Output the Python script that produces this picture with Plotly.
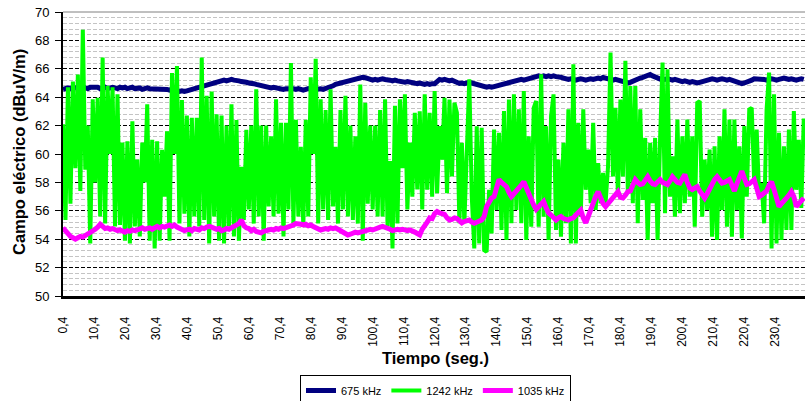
import plotly.graph_objects as go

# Field strength records (dBuV/m), one sample every 0.8 s starting at 0.4 s
campo_675 = [
    64.55, 64.6, 64.65, 64.6, 64.7, 64.65, 64.6, 64.7, 64.75, 64.65, 64.6, 64.7, 64.7, 64.65, 64.7, 64.6, 64.65, 64.7, 64.6, 64.65,
    64.7, 64.65, 64.6, 64.7, 64.65, 64.7, 64.6, 64.65, 64.7, 64.6, 64.6, 64.65, 64.55, 64.6, 64.65, 64.6, 64.6, 64.55, 64.6, 64.6,
    64.55, 64.6, 64.55, 64.5, 64.55, 64.5, 64.45, 64.4, 64.45, 64.4, 64.45, 64.5, 64.55, 64.6, 64.6, 64.65, 64.7, 64.75, 64.8, 64.85,
    64.95, 65.0, 65.05, 65.1, 65.15, 65.2, 65.15, 65.2, 65.25, 65.2, 65.2, 65.15, 65.1, 65.1, 65.05, 65.0, 65.0, 64.95, 64.9, 64.85,
    64.8, 64.8, 64.75, 64.7, 64.65, 64.7, 64.65, 64.6, 64.6, 64.55, 64.6, 64.6, 64.65, 64.6, 64.55, 64.6, 64.55, 64.5, 64.55, 64.6,
    64.55, 64.5, 64.55, 64.6, 64.6, 64.55, 64.6, 64.7, 64.75, 64.8, 64.9, 64.95, 65.0, 65.05, 65.1, 65.15, 65.2, 65.25, 65.3, 65.3,
    65.35, 65.4, 65.38, 65.3, 65.25, 65.2, 65.25, 65.2, 65.25, 65.3, 65.25, 65.25, 65.2, 65.15, 65.2, 65.15, 65.1, 65.1, 65.05, 65.1,
    65.05, 65.0, 65.0, 64.95, 65.0, 64.95, 64.9, 64.95, 64.9, 64.95, 64.95, 65.1, 65.25, 65.2, 65.25, 65.2, 65.15, 65.2, 65.1, 65.0,
    64.97, 65.0, 64.95, 65.0, 65.05, 65.0, 64.95, 64.9, 64.85, 64.8, 64.75, 64.7, 64.75, 64.7, 64.75, 64.8, 64.8, 64.85, 64.9, 64.95,
    65.0, 65.05, 65.1, 65.15, 65.2, 65.25, 65.2, 65.25, 65.3, 65.35, 65.4, 65.45, 65.5, 65.45, 65.5, 65.45, 65.5, 65.45, 65.5, 65.45,
    65.45, 65.4, 65.35, 65.3, 65.25, 65.3, 65.25, 65.2, 65.25, 65.3, 65.25, 65.2, 65.25, 65.3, 65.25, 65.3, 65.35, 65.3, 65.4, 65.35,
    65.3, 65.25, 65.2, 65.25, 65.2, 65.15, 65.1, 65.05, 65.0, 65.05, 65.15, 65.25, 65.3, 65.35, 65.4, 65.5, 65.55, 65.6, 65.5, 65.4,
    65.3, 65.25, 65.2, 65.25, 65.3, 65.25, 65.2, 65.25, 65.2, 65.15, 65.1, 65.15, 65.1, 65.05, 65.1, 65.05, 65.0, 65.05, 65.1, 65.15,
    65.2, 65.25, 65.3, 65.25, 65.2, 65.25, 65.3, 65.25, 65.2, 65.25, 65.2, 65.1, 65.05, 65.0, 64.95, 65.0, 65.05, 65.1, 65.2, 65.3,
    65.3, 65.25, 65.3, 65.25, 65.2, 65.25, 65.3, 65.25, 65.2, 65.25, 65.3, 65.35, 65.3, 65.25, 65.3, 65.25, 65.2, 65.25, 65.3, 65.25,
]

campo_1242 = [
    62.1, 55.35, 64.7, 56.5, 65.1, 59.0, 65.6, 57.4, 68.75, 58.9,
    62.0, 53.7, 63.85, 58.0, 63.95, 55.6, 66.8, 55.1, 64.8, 60.0,
    64.7, 54.9, 64.2, 55.0, 60.8, 53.9, 60.9, 53.7, 62.3, 54.9,
    59.6, 54.2, 60.8, 58.0, 63.5, 53.9, 61.0, 53.35, 60.9, 53.9,
    60.3, 57.0, 61.6, 53.9, 65.7, 60.0, 66.2, 55.1, 63.8, 55.8,
    62.7, 54.2, 62.55, 55.6, 62.55, 54.9, 66.8, 55.35, 64.1, 53.7,
    64.4, 55.6, 62.8, 53.9, 62.7, 53.7, 62.0, 54.9, 63.5, 54.2,
    62.4, 53.9, 59.1, 55.35, 61.7, 56.1, 62.0, 55.1, 64.55, 55.6,
    62.0, 53.9, 62.0, 56.3, 61.25, 55.6, 63.85, 55.8, 62.2, 54.2,
    62.2, 56.1, 66.4, 55.1, 62.4, 55.6, 60.5, 54.9, 62.4, 55.6,
    65.4, 60.0, 66.7, 55.1, 63.85, 56.1, 63.1, 55.35, 64.55, 56.3,
    60.5, 55.1, 63.1, 56.1, 64.1, 55.6, 62.0, 55.35, 61.25, 55.1,
    64.9, 53.9, 63.6, 56.5, 62.0, 56.1, 62.0, 55.6, 63.1, 55.6,
    63.85, 54.9, 59.5, 53.35, 63.4, 55.1, 63.85, 59.0, 64.2, 56.1,
    60.8, 57.0, 62.9, 57.5, 63.0, 56.1,
    64.2, 57.48, 62.9, 57.0, 64.43, 57.24, 61.96, 59.6, 63.96, 57.24,
    63.84, 58.42, 63.61, 62.9, 55.12, 60.78, 55.12, 59.6, 65.26, 57.0,
    53.35, 61.96, 53.7, 61.84, 53.23, 53.11, 57.48, 54.41, 61.72, 56.06,
    61.49, 54.65, 63.02, 53.94, 63.84, 55.12, 64.2, 56.06, 63.14, 55.12,
    64.43, 53.94, 61.25, 54.88, 63.25, 63.73, 54.88, 65.61, 55.59, 61.96,
    53.94, 62.67, 64.2, 54.65, 59.6, 54.17, 60.78, 55.12, 63.14, 53.7,
    66.32, 53.7, 62.19, 55.59, 63.14, 57.48, 60.31, 56.53, 62.19, 56.06,
    59.36, 56.53, 58.66, 56.53, 59.13, 67.15, 58.42, 63.25, 57.0, 63.84,
    58.42, 66.56, 57.24, 64.79, 56.53, 64.79, 55.12, 63.14, 56.77, 61.13,
    53.94, 60.78, 56.53, 61.13, 53.94, 61.01, 66.44, 55.83, 65.97, 57.0,
    59.83, 55.59, 62.43, 55.83, 61.25, 56.53, 62.43, 57.0, 61.25, 54.88,
    63.61, 63.73, 55.59, 59.6, 56.06, 60.31, 54.17, 60.54, 53.94, 61.25,
    56.06, 63.14, 54.88, 62.43, 54.17, 62.43, 56.06, 60.54, 54.06, 61.96,
    57.0, 63.14, 63.25, 57.95, 61.72, 57.0, 57.95, 55.12, 63.14, 65.73,
    53.35, 64.2, 53.7, 61.49, 53.94, 60.54, 54.65, 61.72, 54.65, 63.02,
    57.48, 61.0, 56.2, 62.5,
]

campo_1035 = [
    54.8, 54.6, 54.3, 54.2, 54.1, 54.0, 54.1, 54.2, 54.15, 54.25, 54.3, 54.45, 54.6, 54.7, 54.85, 55.05, 54.9, 54.75, 54.8, 54.7,
    54.75, 54.7, 54.6, 54.65, 54.55, 54.5, 54.6, 54.55, 54.65, 54.6, 54.65, 54.7, 54.8, 54.7, 54.75, 54.8, 54.7, 54.85, 54.9, 54.8,
    54.9, 54.85, 54.95, 55.0, 54.9, 55.0, 54.85, 54.75, 54.7, 54.6, 54.65, 54.7, 54.6, 54.75, 54.7, 54.65, 54.8, 54.75, 54.85, 54.9,
    54.85, 54.8, 54.7, 54.75, 54.6, 54.65, 54.75, 54.7, 54.8, 54.9, 55.0, 55.1, 55.35, 54.95, 54.8, 54.75, 54.6, 54.7, 54.55, 54.5,
    54.45, 54.55, 54.6, 54.65, 54.7, 54.65, 54.75, 54.7, 54.8, 54.75, 54.8, 54.9, 54.95, 55.0, 55.1, 55.1, 55.05, 55.0, 55.05, 54.95,
    55.0, 54.9, 54.8, 54.7, 54.65, 54.7, 54.75, 54.7, 54.8, 54.75, 54.8, 54.7, 54.6, 54.5, 54.4, 54.3, 54.35, 54.45, 54.5, 54.45,
    54.5, 54.55, 54.6, 54.65, 54.7, 54.65, 54.75, 54.8, 54.85, 54.9, 54.85, 54.75, 54.7, 54.6, 54.65, 54.7, 54.65, 54.7, 54.65, 54.6,
    54.65, 54.6, 54.5, 54.4, 54.3, 54.7, 54.9, 55.2, 55.5, 55.45, 55.8, 55.95, 55.85, 55.8, 55.75, 55.5, 55.35, 55.4, 55.5, 55.45,
    55.3, 55.15, 55.25, 55.3, 55.35, 55.2, 55.12, 55.2, 55.3, 55.35, 55.6, 56.3, 56.6, 56.9, 57.0, 57.6, 58.2, 58.0, 57.8, 57.7,
    57.3, 57.0, 57.2, 57.4, 57.5, 57.8, 58.05, 57.6, 57.1, 56.8, 56.4, 56.1, 56.3, 56.5, 56.65, 56.2, 55.85, 55.7, 55.5, 55.35,
    55.5, 55.6, 55.45, 55.4, 55.35, 55.45, 55.5, 55.7, 55.9, 56.05, 55.5, 55.15, 55.6, 56.1, 56.65, 57.0, 57.35, 56.9, 56.5, 56.3,
    56.5, 56.75, 56.9, 57.1, 57.35, 56.95, 56.9, 57.1, 57.35, 57.4, 57.8, 58.2, 58.0, 57.85, 57.9, 58.1, 58.4, 58.1, 57.9, 57.85,
    58.0, 58.2, 58.0, 57.9, 57.85, 58.1, 58.4, 58.2, 58.0, 57.95, 58.2, 58.55, 58.0, 57.6, 57.5, 57.6, 57.7, 57.4, 57.1, 56.9,
    57.2, 57.6, 57.9, 58.2, 58.4, 58.15, 57.95, 58.0, 58.1, 58.2, 57.8, 57.4, 57.9, 58.4, 58.8, 58.3, 57.85, 57.9, 58.0, 58.2,
    57.6, 57.0, 57.1, 57.2, 57.4, 57.8, 58.05, 57.5, 56.8, 56.3, 56.5, 56.65, 56.9, 57.1, 57.35, 57.0, 56.3, 56.5, 56.7, 56.9,
]

series_names = ["675 kHz", "1242 kHz", "1035 kHz"]
series_colors = ["#000080", "#00FF00", "#FF00FF"]
series_widths = [5, 4, 5]

# Time axis labels every 10 s
tick_seconds = [0.4 + 10 * n for n in range(24)]
tick_labels = [f"{v:.1f}".replace(".", ",") for v in tick_seconds]

PASO = 0.8  # sampling interval in seconds


def tiempos(valores):
    return [round(0.4 + PASO * k, 1) for k in range(len(valores))]


fig = go.Figure()
for name, color, values, width in zip(
    series_names, series_colors, [campo_675, campo_1242, campo_1035], series_widths
):
    fig.add_trace(
        go.Scatter(
            x=tiempos(values),
            y=values,
            mode="lines",
            name=name,
            line=dict(color=color, width=width),
        )
    )

font_family = "Liberation Sans, Arial, sans-serif"

# Figure / plot-area geometry in pixels
W, H = 805, 401
ML, MR, MT, MB = 63, 0, 12, 105
plot_w = W - ML - MR
plot_h = H - MT - MB

fig.update_layout(
    width=W,
    height=H,
    margin=dict(l=ML, r=MR, t=MT, b=MB, autoexpand=False),
    paper_bgcolor="white",
    plot_bgcolor="white",
    font=dict(family=font_family, color="black"),
    showlegend=True,
    legend=dict(
        orientation="h",
        xref="container",
        x=435.5 / W,
        xanchor="center",
        yref="container",
        y=1 - 375 / H,
        yanchor="top",
        font=dict(size=11, family=font_family),
        bordercolor="black",
        borderwidth=1,
        itemwidth=30,
        tracegroupgap=0,
    ),
    xaxis=dict(
        range=[0.4, 240],
        tickmode="array",
        tickvals=tick_seconds,
        ticktext=tick_labels,
        tickangle=-90,
        tickfont=dict(size=12),
        ticks="",
        ticklabelstandoff=13,
        showgrid=False,
        zeroline=False,
        showline=True,
        linecolor="black",
        linewidth=3,
    ),
    yaxis=dict(
        range=[50, 70],
        dtick=2,
        tick0=50,
        tickfont=dict(size=13),
        ticks="outside",
        ticklen=6,
        tickcolor="black",
        ticklabelstandoff=3,
        showline=True,
        linecolor="black",
        linewidth=2,
        zeroline=False,
        showgrid=True,
        gridcolor="black",
        gridwidth=1,
        griddash="4px,2px",
        minor=dict(
            dtick=0.4,
            tick0=50,
            showgrid=True,
            gridcolor="#c4c4c4",
            gridwidth=1,
            griddash="4px,2px",
        ),
    ),
    annotations=[
        dict(
            text="<b>Tiempo (seg.)</b>",
            xref="paper",
            yref="paper",
            x=(435 - ML) / plot_w,
            y=(MT + plot_h - 358) / plot_h,
            xanchor="center",
            yanchor="middle",
            showarrow=False,
            font=dict(size=16.5),
        ),
        dict(
            text="<b>Campo eléctrico (dBuV/m)</b>",
            textangle=-90,
            xref="paper",
            yref="paper",
            x=(19 - ML) / plot_w,
            y=(MT + plot_h - 152) / plot_h,
            xanchor="center",
            yanchor="middle",
            showarrow=False,
            font=dict(size=16.5),
        ),
    ],
)

# Top border of the plot area
fig.add_shape(
    type="line", xref="paper", yref="paper", x0=0, x1=1, y0=1, y1=1,
    line=dict(color="#808080", width=1),
)

fig.write_html("out.html")
